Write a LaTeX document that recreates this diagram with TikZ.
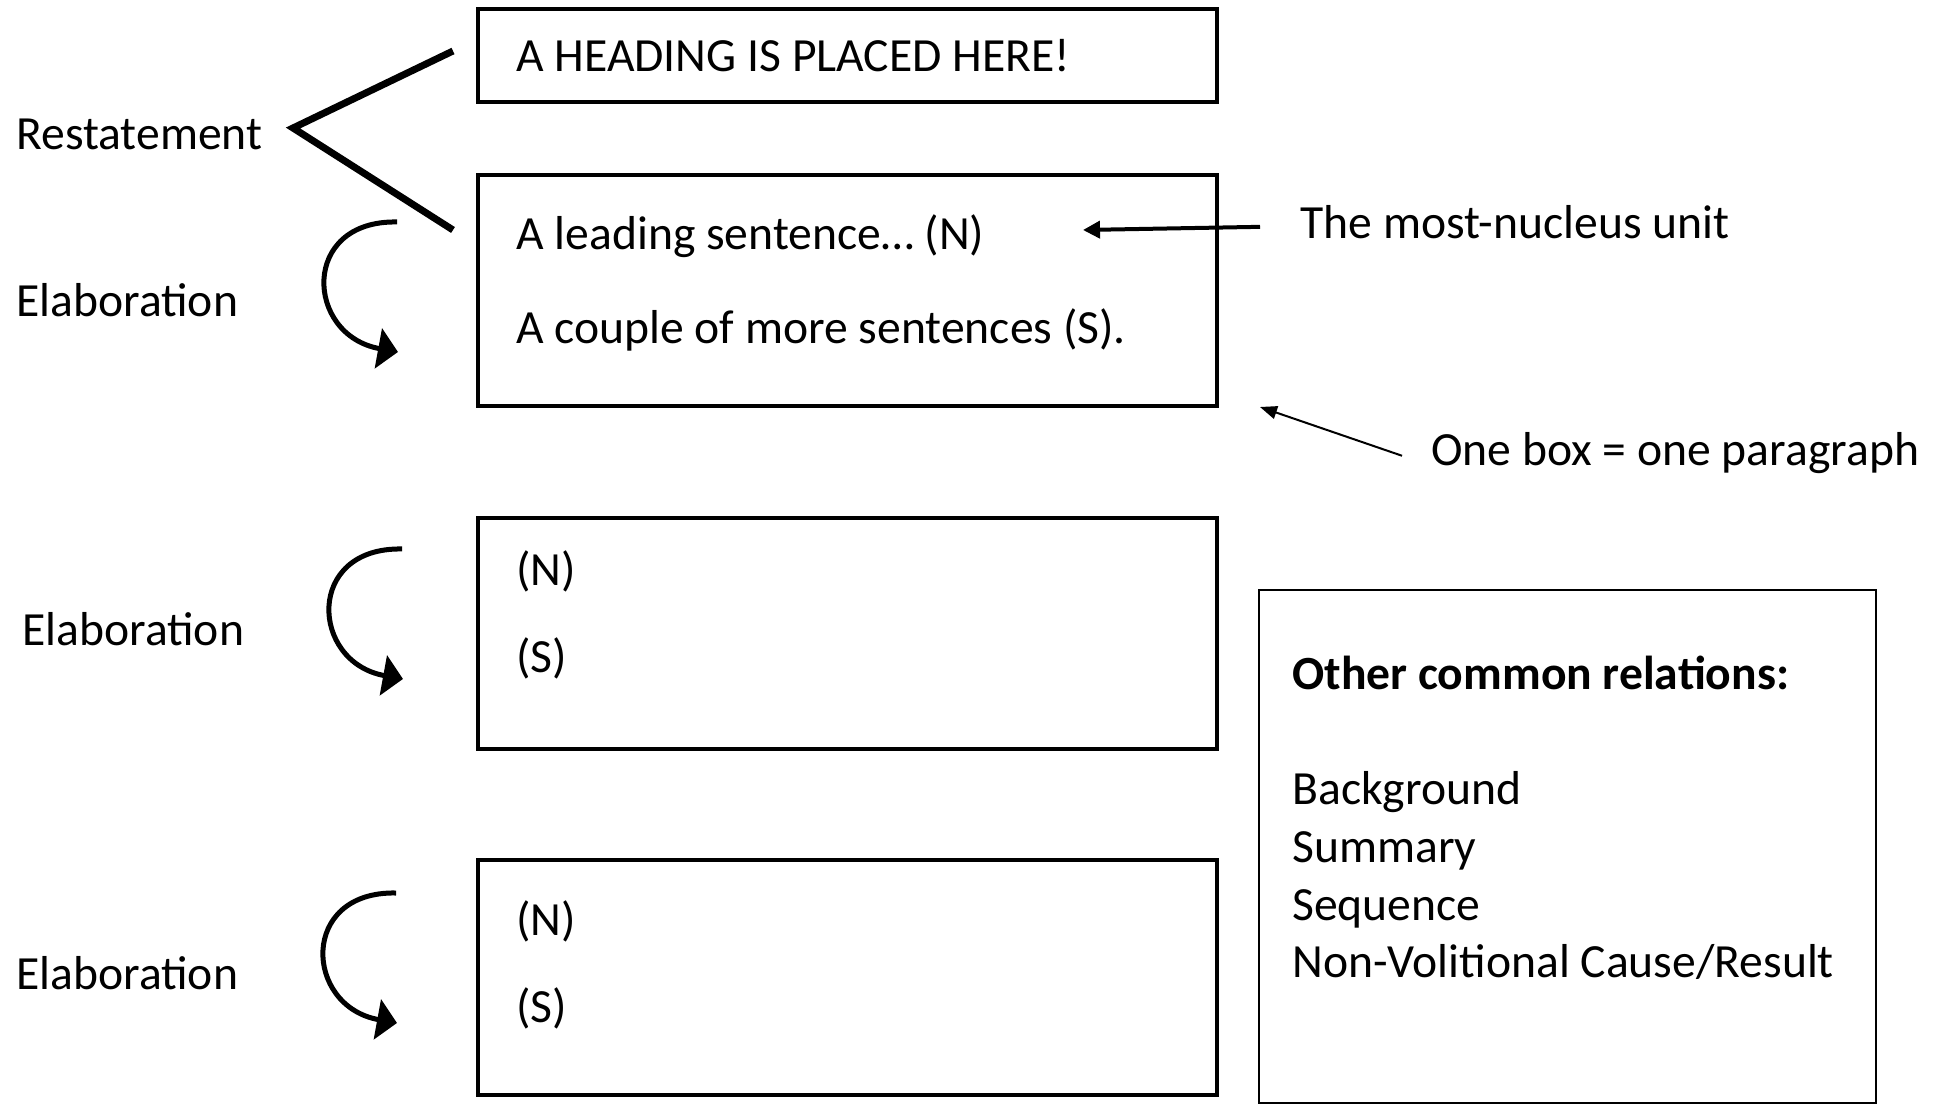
\documentclass[tikz,border=0pt]{standalone}
\usepackage{fontspec}
\setmainfont{Carlito}
\usetikzlibrary{arrows.meta}

\begin{document}
\begin{tikzpicture}[x=0.02cm,y=-0.02cm]
    \tikzstyle{every node}+=[inner sep=0pt, font=\fontsize{27.1}{32}\selectfont]
    \tikzstyle{parbox}=[draw=black, line width=0.07cm, minimum width=14.78cm]
    \tikzstyle{txt}=[anchor=mid west]
    \tikzstyle{turnarrow}=[black, line width=0.1cm, -{Triangle[length=0.4cm,width=0.8cm]}]
    \useasboundingbox (0,0) rectangle (1951,1104);
    % paragraph boxes
    \node [parbox, minimum height=1.86cm] (head) at (847.5,55.5) {};
    \node [parbox, minimum height=4.62cm] (lead) at (847.5,290.5) {};
    \node [parbox, minimum height=4.62cm] (second) at (847.5,633.5) {};
    \node [parbox, minimum height=4.70cm] (third) at (847.5,977.5) {};
    \node [draw=black, line width=0.05cm, minimum width=12.34cm, minimum height=10.26cm] (others) at (1567.5,846.5) {};
    \node [txt] (headtxt) at (516,67) {A HEADING IS PLACED HERE!};
    \node [txt] (leadN) at (516,245) {A leading sentence… (N)};
    \node [txt] (leadS) at (516,339) {A couple of more sentences (S).};
    \node [txt] (secN) at (516,581) {(N)};
    \node [txt] (secS) at (516,668) {(S)};
    \node [txt] (thirdN) at (516,931) {(N)};
    \node [txt] (thirdS) at (516,1018) {(S)};
    % relations on the left
    \node [txt] (restate) at (16,145) {Restatement};
    \node [txt] (elab1) at (16,312) {Elaboration};
    \node [txt] (elab2) at (22,641) {Elaboration};
    \node [txt] (elab3) at (16,985) {Elaboration};
    \coordinate (rtip) at (293,128);
    \coordinate (rtop) at (453,51);
    \coordinate (rbot) at (453,230);
    \draw [black, line width=0.14cm] (rtop) -- (rtip) -- (rbot);
    \foreach \dx/\dy [count=\i] in {0/0, 5/327, -1/671} {
        \coordinate (bs\i) at (397+\dx,222+\dy);
        \coordinate (be\i) at (398+\dx,352+\dy);
        \draw [turnarrow] (bs\i) .. controls +(-97,-2) and +(-93,-17) .. (be\i);
    }
    % notes on the right
    \node [txt] (nucleus) at (1300,234) {The most-nucleus unit};
    \node [txt] (onebox) at (1431,461) {One box = one paragraph};
    \coordinate (nuctip) at (1083,230);
    \coordinate (boxtip) at (1260,407);
    \draw [black, line width=0.08cm, -{Triangle[length=0.34cm,width=0.34cm]}] ([xshift=-0.8cm,yshift=-0.1cm]nucleus.west) -- (nuctip);
    \draw [black, line width=0.04cm, -{Triangle[length=0.34cm,width=0.26cm]}] ([xshift=-0.58cm,yshift=-0.06cm]onebox.west) -- (boxtip);
    \node [txt, font=\fontsize{27.1}{32}\selectfont\bfseries] (othershead) at (1292,685) {Other common relations:};
    \node [txt] (bg) at (1292,800) {Background};
    \node [txt] (summ) at (1292,858) {Summary};
    \node [txt] (seq) at (1292,916) {Sequence};
    \node [txt] (nvc) at (1292,973) {Non-Volitional Cause/Result};
\end{tikzpicture}
\end{document}
